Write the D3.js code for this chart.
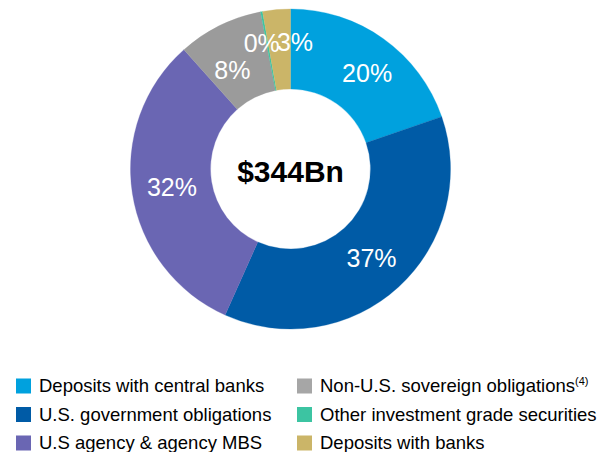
<!DOCTYPE html>
<html>
<head>
<meta charset="utf-8">
<script src="https://cdn.jsdelivr.net/npm/d3@7"></script>
<style>
  html, body { margin: 0; padding: 0; background: #fff; }
  svg { display: block; font-family: "Liberation Sans", Arial, sans-serif; }
</style>
</head>
<body>
<svg id="chart" width="599" height="452"></svg>
<script>
const categories = [
  "Deposits with central banks",
  "U.S. government obligations",
  "U.S agency & agency MBS",
  "Non-U.S. sovereign obligations",
  "Other investment grade securities",
  "Deposits with banks"
];
const values = [19.7, 37.0, 31.7, 8.6, 0.2, 2.8];
const valueLabels = ["20%", "37%", "32%", "8%", "0%", "3%"];
const colors = ["#00A1DE", "#005BA6", "#6A66B3", "#9B9B9B", "#3CC4A2", "#CBB568"];
const centerLabel = "$344Bn";
const legendOrder = [0, 3, 1, 4, 2, 5];

const svg = d3.select("#chart");
const cx = 290.5, cy = 169, rOuter = 160, rInner = 80;

const pie = d3.pie().sort(null).value(d => d.value);
const arcs = pie(categories.map((c, i) => ({ name: c, value: values[i], label: valueLabels[i], color: colors[i] })));
const arc = d3.arc().innerRadius(rInner).outerRadius(rOuter);

const g = svg.append("g").attr("transform", `translate(${cx},${cy})`);
g.selectAll("path.slice").data(arcs).join("path")
  .attr("class", "slice")
  .attr("d", arc)
  .attr("fill", d => d.data.color)
  .attr("stroke", d => d.data.color)
  .attr("stroke-width", 0.3);

// label nudges for the crowded small slices
const nudge = { 4: [-7, -8], 5: [15, -7], 3: [-5, 9], 0: [7, 2] };
g.selectAll("text.val").data(arcs).join("text")
  .attr("class", "val")
  .attr("transform", (d, i) => {
    const c = arc.centroid(d);
    const n = nudge[i] || [0, 0];
    return `translate(${c[0] + n[0]},${c[1] + n[1]})`;
  })
  .attr("text-anchor", "middle")
  .attr("dy", "0.36em")
  .attr("fill", "#fff")
  .attr("font-size", 25)
  .text(d => d.data.label);

g.append("text")
  .attr("text-anchor", "middle")
  .attr("y", 12.5)
  .attr("font-size", 30)
  .attr("font-weight", "bold")
  .attr("fill", "#000")
  .text(centerLabel);

// legend
const legend = svg.append("g");
const colX = [16, 297];
const rowY = [386, 414.5, 443];
legendOrder.forEach((ci, k) => {
  const col = k % 2, row = Math.floor(k / 2);
  const item = legend.append("g").attr("transform", `translate(${colX[col]},${rowY[row]})`);
  item.append("rect").attr("x", 0).attr("y", -7.5).attr("width", 15).attr("height", 15)
    .attr("fill", ci === 3 ? "#A6A6A6" : colors[ci]);
  const t = item.append("text").attr("x", 23).attr("y", 0).attr("dy", "0.35em")
    .attr("font-size", 18.5).attr("fill", "#000").text(categories[ci]);
  if (ci === 3) {
    t.append("tspan").attr("font-size", 11).attr("dy", "-0.7em").text("(4)");
  }
});
</script>
</body>
</html>
